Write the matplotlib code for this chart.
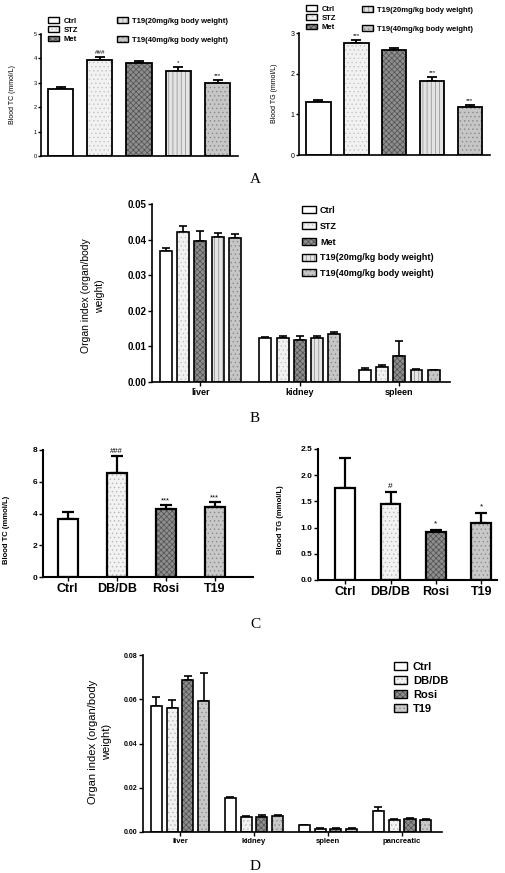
import matplotlib
matplotlib.use("Agg")
import matplotlib.pyplot as plt
from matplotlib.patches import Patch
import numpy as np

plt.rcParams['font.family'] = ['Liberation Sans', 'DejaVu Sans']
plt.rcParams['hatch.linewidth'] = 0.5

# ---- data ----
# panel A (STZ model)
groups_a = ["Ctrl", "STZ", "Met", "T19(20mg/kg body weight)", "T19(40mg/kg body weight)"]
tc_a = [2.73, 3.95, 3.82, 3.50, 2.98]
tc_a_err = [0.08, 0.10, 0.07, 0.16, 0.13]
tc_a_sig = ["", "###", "", "*", "***"]
tg_a = [1.30, 2.76, 2.58, 1.82, 1.19]
tg_a_err = [0.05, 0.08, 0.06, 0.10, 0.05]
tg_a_sig = ["", "***", "", "***", "***"]

# panel B (organ index, STZ model), one list per organ, order as groups_a
organs_b = ["liver", "kidney", "spleen"]
liver_b = [0.0369, 0.0421, 0.0397, 0.0406, 0.0404]
liver_b_err = [0.0007, 0.0016, 0.0026, 0.0013, 0.0012]
kidney_b = [0.0124, 0.0125, 0.0119, 0.0125, 0.0135]
kidney_b_err = [0.0003, 0.0004, 0.0009, 0.0003, 0.0006]
spleen_b = [0.0035, 0.0042, 0.0072, 0.0035, 0.0033]
spleen_b_err = [0.0003, 0.0005, 0.0044, 0.0002, 0.0002]

# panel C (db/db model)
groups_c = ["Ctrl", "DB/DB", "Rosi", "T19"]
tc_c = [3.63, 6.57, 4.28, 4.39]
tc_c_err = [0.48, 1.05, 0.26, 0.32]
tc_c_sig = ["", "###", "***", "***"]
tg_c = [1.76, 1.45, 0.925, 1.09]
tg_c_err = [0.57, 0.23, 0.035, 0.19]
tg_c_sig = ["", "#", "*", "*"]

# panel D (organ index, db/db model)
organs_d = ["liver", "kidney", "spleen", "pancreatic"]
liver_d = [0.0570, 0.0560, 0.0687, 0.0592]
liver_d_err = [0.0039, 0.0037, 0.0020, 0.0125]
kidney_d = [0.0153, 0.0068, 0.0068, 0.0072]
kidney_d_err = [0.0003, 0.0006, 0.0007, 0.0006]
spleen_d = [0.0030, 0.0015, 0.0014, 0.0014]
spleen_d_err = [0.0003, 0.0002, 0.0002, 0.0002]
panc_d = [0.0097, 0.0052, 0.0058, 0.0052]
panc_d_err = [0.0018, 0.0008, 0.0006, 0.0008]

# ---- styles (face, hatch, hatch colour) ----
styles_a = [
    ("white", None, "white"),
    ("#f2f2f2", "....", "#c4c4c4"),
    ("#8e8e8e", "xxxxxx", "#505050"),
    ("#e4e4e4", "||||", "#8a8a8a"),
    ("#c6c6c6", "....", "#8a8a8a"),
]
styles_c = [
    ("white", None, "white"),
    ("#f2f2f2", "....", "#b8b8b8"),
    ("#8e8e8e", "xxxxxx", "#505050"),
    ("#c8c8c8", "....", "#8a8a8a"),
]

W, H = 505, 873
fig = plt.figure(figsize=(W / 100, H / 100), dpi=100)


def px_axes(x0, y0, x1, y1):
    return fig.add_axes([x0 / W, 1 - y1 / H, (x1 - x0) / W, (y1 - y0) / H])


def style_axes(ax, lw=1.2):
    for s in ["top", "right"]:
        ax.spines[s].set_visible(False)
    for s in ["left", "bottom"]:
        ax.spines[s].set_linewidth(lw)
    ax.tick_params(direction="out", length=3, width=1, pad=1)


def draw_bars(ax, x, vals, errs, width, style, lw=1.2, cap=3):
    face, hatch, hc = style
    ax.bar(x, vals, width, color=face, hatch=hatch, edgecolor=hc, linewidth=0, zorder=2)
    ax.bar(x, vals, width, fill=False, edgecolor="black", linewidth=lw, zorder=3)
    ax.errorbar(x, vals, yerr=[np.zeros(len(vals)), errs], fmt="none", ecolor="black",
                elinewidth=lw, capsize=cap, capthick=lw, zorder=1)


def handle(style):
    face, hatch, hc = style
    return (Patch(facecolor=face, hatch=hatch, edgecolor=hc, linewidth=0),
            Patch(fill=False, edgecolor="black", linewidth=1))


def legend(handles, labels, x, y, size, spacing, hlen=1.4, hh=0.8, pad=0.6):
    fig.legend(handles, labels, loc="upper left", bbox_to_anchor=(x / W, 1 - y / H),
               frameon=False, borderaxespad=0, borderpad=0, handlelength=hlen,
               handleheight=hh, handletextpad=pad, labelspacing=spacing,
               prop={"size": size, "weight": "bold"})


def sig_labels(ax, x, vals, errs, sigs, off, size):
    for xi, v, e, s in zip(x, vals, errs, sigs):
        if s:
            ax.text(xi, v + e + off, s, ha="center", va="bottom", fontsize=size)


# ---- A left: blood TC ----
ax = px_axes(41, 34, 238, 156)
x = np.arange(len(tc_a))
for i in range(len(tc_a)):
    draw_bars(ax, [x[i]], [tc_a[i]], [tc_a_err[i]], 0.64, styles_a[i], lw=1.3, cap=3.5)
sig_labels(ax, x, tc_a, tc_a_err, tc_a_sig, 0.08, 4.5)
ax.set_xlim(-0.497, 4.52)
ax.set_ylim(0, 5)
ax.set_xticks([])
ax.set_yticks(range(6))
style_axes(ax)
ax.tick_params(axis="y", labelsize=4, length=2)
fig.text(13 / W, 1 - 95 / H, "Blood TC (mmol/L)", rotation=90, ha="center", va="center", fontsize=5)
hs = [handle(s) for s in styles_a]
legend(hs[:3], groups_a[:3], 48, 17, 5.5, 0.22)
legend(hs[3:], groups_a[3:], 117, 17, 5.5, 1.5)

# ---- A right: blood TG ----
ax = px_axes(299, 33, 490, 155)
x = np.arange(len(tg_a))
for i in range(len(tg_a)):
    draw_bars(ax, [x[i]], [tg_a[i]], [tg_a_err[i]], 0.65, styles_a[i], lw=1.3, cap=3.5)
sig_labels(ax, x, tg_a, tg_a_err, tg_a_sig, 0.04, 4.5)
ax.set_xlim(-0.51, 4.53)
ax.set_ylim(0, 3)
ax.set_xticks([])
ax.set_yticks(range(4))
style_axes(ax)
ax.tick_params(axis="y", labelsize=5, length=2)
fig.text(275 / W, 1 - 93 / H, "Blood TG (mmol/L)", rotation=90, ha="center", va="center", fontsize=5)
legend(hs[:3], groups_a[:3], 306, 5, 5.5, 0.22)
legend(hs[3:], groups_a[3:], 362, 6, 5.5, 1.5)

fig.text(255 / W, 1 - 180 / H, "A", ha="center", va="center", fontsize=11,
         family=["Liberation Serif", "DejaVu Serif"])

# ---- B: organ index ----
ax = px_axes(152, 204, 450, 382)
vals_b = np.array([liver_b, kidney_b, spleen_b])
errs_b = np.array([liver_b_err, kidney_b_err, spleen_b_err])
gx = np.arange(len(organs_b))
step = 0.173
for i in range(len(groups_a)):
    draw_bars(ax, gx + (i - 2) * step, vals_b[:, i], errs_b[:, i], 0.12, styles_a[i], lw=1.2, cap=3)
ax.set_xlim(-0.487, 2.51)
ax.set_ylim(0, 0.05)
ax.set_xticks(gx)
ax.set_xticklabels(organs_b, fontsize=6.5, fontweight="bold")
ax.set_yticks(np.arange(0, 0.051, 0.01))
ax.set_yticklabels(["%.2f" % v for v in np.arange(0, 0.051, 0.01)], fontsize=7, fontweight="bold")
style_axes(ax)
fig.text(93 / W, 1 - 296 / H, "Organ index (organ/body\nweight)", rotation=90, ha="center",
         va="center", fontsize=7.5, linespacing=1.6)
legend(hs, groups_a, 302, 206, 6.5, 0.75, hlen=1.6, hh=0.8, pad=0.4)

fig.text(255 / W, 1 - 418 / H, "B", ha="center", va="center", fontsize=11,
         family=["Liberation Serif", "DejaVu Serif"])

# ---- C left: blood TC ----
ax = px_axes(43, 450, 253, 577)
x = np.arange(len(tc_c))
for i in range(len(tc_c)):
    draw_bars(ax, [x[i]], [tc_c[i]], [tc_c_err[i]], 0.4, styles_c[i], lw=1.6, cap=4)
sig_labels(ax, x, tc_c, tc_c_err, tc_c_sig, 0.05, 5.5)
ax.set_xlim(-0.505, 3.78)
ax.set_ylim(0, 8)
ax.set_xticks(x)
ax.set_xticklabels(groups_c, fontsize=9, fontweight="bold")
ax.set_yticks(range(0, 9, 2))
style_axes(ax, lw=1.5)
ax.tick_params(axis="y", labelsize=6)
for t in ax.get_yticklabels():
    t.set_fontweight("bold")
fig.text(7 / W, 1 - 530 / H, "Blood TC (mmol/L)", rotation=90, ha="center", va="center",
         fontsize=5.5, fontweight="bold")

# ---- C right: blood TG ----
ax = px_axes(318, 449, 497, 580)
x = np.arange(len(tg_c))
for i in range(len(tg_c)):
    draw_bars(ax, [x[i]], [tg_c[i]], [tg_c_err[i]], 0.44, styles_c[i], lw=1.6, cap=4)
sig_labels(ax, x, tg_c, tg_c_err, tg_c_sig, 0.04, 6)
ax.set_xlim(-0.6, 3.35)
ax.set_ylim(0, 2.5)
ax.set_xticks(x)
ax.set_xticklabels(groups_c, fontsize=9, fontweight="bold")
ax.set_yticks(np.arange(0, 2.51, 0.5))
ax.set_yticklabels(["%.1f" % v for v in np.arange(0, 2.51, 0.5)], fontsize=6, fontweight="bold")
style_axes(ax, lw=1.5)
fig.text(281 / W, 1 - 520 / H, "Blood TG (mmol/L)", rotation=90, ha="center", va="center",
         fontsize=5.5, fontweight="bold")

fig.text(255 / W, 1 - 625 / H, "C", ha="center", va="center", fontsize=11,
         family=["Liberation Serif", "DejaVu Serif"])

# ---- D: organ index ----
ax = px_axes(143, 655, 442, 832)
vals_d = np.array([liver_d, kidney_d, spleen_d, panc_d])
errs_d = np.array([liver_d_err, kidney_d_err, spleen_d_err, panc_d_err])
gx = np.arange(len(organs_d))
step = 0.214
for i in range(len(groups_c)):
    draw_bars(ax, gx + (i - 1.5) * step, vals_d[:, i], errs_d[:, i], 0.15, styles_c[i], lw=1.2, cap=3)
ax.set_xlim(-0.5, 3.54)
ax.set_ylim(0, 0.08)
ax.set_xticks(gx)
ax.set_xticklabels(organs_d, fontsize=5.5, fontweight="bold")
ax.set_yticks(np.arange(0, 0.081, 0.02))
ax.set_yticklabels(["%.2f" % v for v in np.arange(0, 0.081, 0.02)], fontsize=5, fontweight="bold")
style_axes(ax)
fig.text(100 / W, 1 - 742 / H, "Organ index (organ/body\nweight)", rotation=90, ha="center",
         va="center", fontsize=8, linespacing=1.6)
hd = [handle(s) for s in styles_c]
legend(hd, groups_c, 394, 662, 8, 0.35, hlen=1.2, hh=0.75, pad=0.5)

fig.text(255 / W, 1 - 866 / H, "D", ha="center", va="center", fontsize=11,
         family=["Liberation Serif", "DejaVu Serif"])

fig.savefig("out.png", dpi=100)
